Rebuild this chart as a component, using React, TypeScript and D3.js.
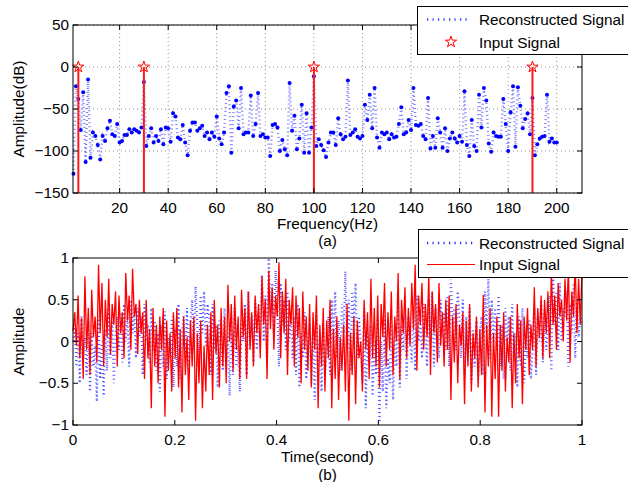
import React from 'react';
import * as d3 from 'd3';

// ---- Data ----
const freqDb = [
  -127, -23, -38, -75, -30, -113, -15, -108, -78, -82,
  -93, -110, -82, -88, -73, -64, -80, -82, -68, -90,
  -88, -81, -81, -74, -78, -74, -76, -78, -72, -18,
  -94, -82, -73, -90, -82, -88, -74, -92, -72, -73,
  -89, -55, -59, -84, -86, -69, -90, -105, -76, -66,
  -66, -76, -73, -70, -82, -78, -86, -78, -83, -59,
  -85, -92, -78, -31, -23, -102, -47, -40, -73, -25,
  -80, -78, -78, -34, -82, -68, -31, -82, -80, -84,
  -84, -106, -69, -68, -72, -100, -87, -98, -105, -19,
  -76, -58, -98, -85, -45, -102, -55, -102, -72, -11,
  -94, -86, -93, -99, -107, -90, -78, -78, -93, -61,
  -80, -86, -83, -16, -81, -78, -74, -83, -85, -82,
  -45, -63, -33, -73, -25, -84, -96, -78, -80, -78,
  -86, -80, -84, -83, -68, -48, -80, -78, -63, -75,
  -25, -69, -70, -68, -82, -86, -37, -97, -82, -96,
  -61, -78, -96, -73, -100, -85, -78, -85, -90, -82,
  -89, -29, -93, -106, -63, -94, -100, -33, -72, -25,
  -40, -91, -101, -78, -82, -83, -83, -38, -68, -100,
  -54, -23, -95, -24, -46, -73, -62, -55, -80, -37,
  -105, -92, -85, -83, -82, -33, -89, -85, -90, -90,
];
const stemFreqs = [3, 30, 100, 190];
const stemDb = [0, 0, 0, 0];

const inputSignal = [
  0.12, 0.35, -0.05, 0.55, -0.2, 0.28, -0.45, 0.78, -0.1, 0.4,
  -0.4, 0.62, 0.05, 0.3, -0.25, 0.92, 0.1, 0.7, -0.3, 0.5,
  0.05, 0.75, -0.15, 0.45, 0.2, 0.6, -0.3, 0.55, 0.1, 0.35,
  -0.2, 0.82, 0.25, 0.55, -0.1, 0.87, 0.3, 0.45, -0.15, 0.5,
  0.1, 0.35, -0.45, 0.5, -0.2, 0.15, -0.8, 0.4, -0.3, 0.2,
  -0.5, 0.3, -0.1, 0.4, -0.9, 0.25, -0.35, 0.1, -0.6, 0.35,
  -0.2, 0.4, -0.55, 0.15, -0.85, 0.3, -0.4, 0.05, -0.7, 0.25,
  -0.3, 0.3, -0.95, 0.1, -0.5, 0.25, -0.8, -0.05, -0.6, 0.2,
  -0.4, 0.35, -0.7, 0.5, -0.15, 0.2, -0.55, 0.4, -0.3, 0.3,
  -0.5, 0.68, 0.0, 0.45, -0.35, 0.55, -0.1, 0.3, -0.45, 0.62,
  0.05, 0.4, -0.45, 0.6, -0.1, 0.35, -0.3, 0.55, 0.1, 0.45,
  -0.2, 0.78, 0.2, 0.5, -0.45, 0.85, 0.15, 0.65, -0.1, 0.55,
  0.3, 0.95, -0.2, 0.6, 0.1, 0.75, -0.4, 0.5, 0.2, 0.65,
  -0.3, 0.55, 0.05, 0.4, -0.5, 0.6, -0.1, 0.3, -0.35, 0.45,
  -0.55, 0.35, -0.1, 0.55, -0.8, 0.2, -0.3, 0.4, -0.6, 0.25,
  -0.2, 0.5, -0.8, 0.15, -0.45, 0.3, -0.7, 0.05, -0.35, 0.2,
  -0.6, 0.45, -0.95, 0.1, -0.4, 0.3, -0.75, 0.25, -0.2, 0.0,
  -0.6, 0.5, -0.1, 0.35, -0.45, 0.75, -0.2, 0.4, -0.3, 0.55,
  -0.55, 0.45, 0.05, 0.7, -0.3, 0.35, -0.1, 0.6, -0.4, 0.3,
  0.0, 0.82, -0.45, 0.5, 0.1, 0.65, -0.2, 0.4, -0.05, 0.7,
  0.15, 0.92, -0.35, 0.55, 0.2, 0.7, -0.1, 0.45, 0.05, 0.8,
  -0.4, 0.6, 0.1, 0.45, -0.25, 0.7, -0.05, 0.35, -0.3, 0.5,
  -0.1, 0.55, -0.7, 0.3, -0.25, 0.45, -0.5, 0.2, -0.05, 0.35,
  -0.75, 0.25, -0.3, 0.45, -0.6, 0.1, -0.2, 0.3, -0.55, 0.15,
  -0.4, 0.56, -0.85, 0.2, -0.3, 0.4, -0.9, 0.1, -0.45, 0.3,
  -0.9, 0.2, -0.35, 0.35, -0.6, 0.05, -0.25, 0.3, -0.8, 0.1,
  -0.5, 0.45, -0.2, 0.25, -0.75, 0.3, -0.1, 0.4, -0.4, 0.2,
  -0.1, 0.65, -0.3, 0.4, 0.05, 0.55, -0.2, 0.5, 0.1, 0.6,
  -0.2, 0.85, 0.2, 0.55, -0.1, 0.7, 0.3, 0.5, 0.0, 0.75,
  0.25, 0.9, -0.25, 0.6, 0.3, 0.95, 0.1, 0.75, 0.2, 0.85,
];

const reconstructedSignal = [
  0.0, 0.2, -0.3, 0.1, -0.5, 0.3, -0.15, 0.05, -0.4, 0.25,
  -0.6, 0.1, -0.3, -0.05, -0.72, 0.3, -0.45, 0.0, -0.65, 0.15,
  -0.35, 0.4, -0.2, 0.25, -0.5, 0.1, 0.3, -0.1, 0.35, -0.25,
  0.45, 0.0, 0.3, -0.3, 0.5, 0.1, 0.35, -0.2, 0.4, 0.05,
  0.3, -0.4, 0.45, 0.0, 0.2, -0.25, 0.4, -0.1, 0.25, -0.35,
  0.1, -0.6, 0.2, -0.3, 0.36, -0.45, 0.05, -0.2, 0.3, -0.55,
  0.15, -0.3, 0.45, -0.45, 0.1, 0.3, -0.2, 0.4, -0.35, 0.2,
  0.5, -0.1, 0.66, 0.2, -0.3, 0.55, 0.1, 0.6, -0.05, 0.45,
  0.3, -0.4, 0.45, -0.1, 0.2, -0.55, 0.25, 0.0, -0.35, 0.4,
  -0.2, 0.1, -0.65, 0.3, -0.4, 0.4, -0.3, -0.05, -0.6, 0.25,
  0.0, 0.45, -0.4, 0.6, 0.1, 0.3, -0.25, 0.5, -0.1, 0.35,
  0.2, 0.8, 0.0, 0.55, -0.2, 1.0, 0.3, 0.7, 0.1, 0.85,
  0.4, -0.3, 0.7, 0.2, 0.5, -0.1, 0.6, 0.0, 0.35, -0.2,
  0.3, -0.4, 0.45, -0.55, 0.1, -0.2, 0.35, -0.45, 0.0, 0.2,
  -0.5, 0.1, -0.7, 0.35, -0.3, 0.0, -0.6, 0.2, -0.4, -0.1,
  0.3, -0.4, 0.5, 0.0, 0.6, -0.2, 0.25, -0.35, 0.45, 0.1,
  0.84, -0.1, 0.5, -0.35, 0.6, 0.2, 0.7, -0.2, 0.3, 0.0,
  -0.5, 0.4, -0.8, 0.1, -0.3, 0.2, -0.65, 0.0, -0.4, 0.3,
  -0.97, 0.0, -0.6, 0.3, -0.8, -0.2, -0.5, 0.2, -0.7, 0.1,
  -0.3, 0.45, -0.55, 0.2, -0.1, 0.35, -0.45, 0.3, 0.0, -0.25,
  0.4, -0.35, 0.55, 0.0, 0.3, -0.2, 0.45, 0.1, -0.3, 0.5,
  0.0, 0.6, -0.3, 0.4, 0.15, -0.2, 0.5, 0.05, 0.35, -0.1,
  0.55, -0.3, 0.74, 0.2, 0.4, -0.1, 0.6, 0.3, -0.2, 0.5,
  -0.4, 0.3, -0.1, 0.4, -0.5, 0.15, -0.3, 0.25, -0.45, 0.1,
  0.3, -0.4, 0.6, 0.1, 0.75, -0.2, 0.5, 0.0, 0.4, -0.1,
  0.55, -0.3, 0.2, -0.45, 0.4, 0.0, 0.3, -0.35, 0.45, -0.2,
  0.1, -0.55, 0.3, -0.3, 0.4, -0.5, 0.0, -0.2, 0.25, -0.45,
  -0.1, 0.4, -0.4, 0.3, 0.0, 0.5, -0.25, 0.35, -0.1, 0.2,
  0.55, -0.35, 0.85, 0.2, 0.6, -0.1, 0.7, 0.0, 0.4, 0.3,
  0.6, -0.3, 0.45, 0.1, 0.7, -0.2, 0.5, 0.05, 0.3, 0.2,
];

const freqTicks = [20, 40, 60, 80, 100, 120, 140, 160, 180, 200];
const dbTicks = [-150, -100, -50, 0, 50];
const timeTicks = [0, 0.2, 0.4, 0.6, 0.8, 1];
const ampTicks = [-1, -0.5, 0, 0.5, 1];
const legendLabels = ['Reconstructed Signal', 'Input Signal'];

const FONT = '"Liberation Sans", Arial, Helvetica, sans-serif';

function fmt(v: number) {
  const s = String(Math.abs(v));
  return v < 0 ? '\u2212' + s : s;
}

export default function App() {
  const W = 628, H = 482;
  const A = { l: 73, r: 582, t: 25, b: 193 };
  const B = { l: 73, r: 582, t: 258, b: 425 };

  const xF = d3.scaleLinear().domain([0.8, 210.4]).range([A.l, A.r]);
  const yF = d3.scaleLinear().domain([-150, 50]).range([A.b, A.t]);
  const xT = d3.scaleLinear().domain([0, 1]).range([B.l, B.r]);
  const yT = d3.scaleLinear().domain([-1, 1]).range([B.b, B.t]);

  const freqPts = freqDb.map((v, i) => [i + 1, v] as [number, number]);
  const freqLine = d3.line<[number, number]>().x(d => xF(d[0])).y(d => yF(d[1]))(freqPts) || '';

  const nIn = inputSignal.length;
  const inLine = d3.line<number>().x((_, i) => xT(i / (nIn - 1))).y(d => yT(d))(inputSignal) || '';
  const nRe = reconstructedSignal.length;
  const reLine = d3.line<number>().x((_, i) => xT(i / (nRe - 1))).y(d => yT(d))(reconstructedSignal) || '';

  const star = d3.symbol().type(d3.symbolStar).size(40)() || '';

  const tickLen = 5;
  const fs = 15.3;

  const axisFrame = (box: typeof A, xs: number[], xScale: any, ys: number[], yScale: any) => (
    <g>
      <rect x={box.l} y={box.t} width={box.r - box.l} height={box.b - box.t} fill="none" stroke="#000" strokeWidth={1} />
      {xs.map(v => (
        <g key={'xt' + v}>
          <line x1={xScale(v)} x2={xScale(v)} y1={box.b} y2={box.b - tickLen} stroke="#000" />
          <line x1={xScale(v)} x2={xScale(v)} y1={box.t} y2={box.t + tickLen} stroke="#000" />
        </g>
      ))}
      {ys.map(v => (
        <g key={'yt' + v}>
          <line x1={box.l} x2={box.l + tickLen} y1={yScale(v)} y2={yScale(v)} stroke="#000" />
          <line x1={box.r} x2={box.r - tickLen} y1={yScale(v)} y2={yScale(v)} stroke="#000" />
        </g>
      ))}
    </g>
  );

  return (
    <svg width={W} height={H} style={{ position: 'absolute', left: 0, top: 0, background: '#fff' }} fontFamily={FONT}>
      <rect x={0} y={0} width={W} height={H} fill="#fff" />
      {/* ---------- Top plot ---------- */}
      <g>
        {freqTicks.map(v => (
          <line key={'gx' + v} x1={xF(v)} x2={xF(v)} y1={A.t} y2={A.b} stroke="#000" strokeOpacity={0.55} strokeWidth={0.8} strokeDasharray="1 3" />
        ))}
        {dbTicks.map(v => (
          <line key={'gy' + v} x1={A.l} x2={A.r} y1={yF(v)} y2={yF(v)} stroke="#000" strokeOpacity={0.55} strokeWidth={0.8} strokeDasharray="1 3" />
        ))}
        <path d={freqLine} fill="none" stroke="#4a4aff" strokeOpacity={0.7} strokeWidth={2.4} strokeDasharray="1 3" />
        {freqPts.map((d, i) => (
          <circle key={'fp' + i} cx={xF(d[0])} cy={yF(d[1])} r={2} fill="#0000ff" />
        ))}
        {stemFreqs.map((f, i) => (
          <g key={'st' + i}>
            <line x1={xF(f)} x2={xF(f)} y1={yF(-150)} y2={yF(stemDb[i])} stroke="#ff1a1a" strokeWidth={2} />
            <path d={star} transform={`translate(${xF(f)},${yF(stemDb[i])})`} fill="none" stroke="#ff0000" strokeWidth={1} />
          </g>
        ))}
        {axisFrame(A, freqTicks, xF, dbTicks, yF)}
        {freqTicks.map(v => (
          <text key={'xl' + v} x={xF(v)} y={A.b + 20} textAnchor="middle" fontSize={fs}>{fmt(v)}</text>
        ))}
        {dbTicks.map(v => (
          <text key={'yl' + v} x={A.l - 4} y={yF(v) + 5} textAnchor="end" fontSize={fs}>{fmt(v)}</text>
        ))}
        <text x={(A.l + A.r) / 2} y={229} textAnchor="middle" fontSize={fs}>Frequency(Hz)</text>
        <text x={(A.l + A.r) / 2} y={246} textAnchor="middle" fontSize={fs}>(a)</text>
        <text transform={`translate(24,${(A.t + A.b) / 2}) rotate(-90)`} textAnchor="middle" fontSize={fs}>Amplitude(dB)</text>
        {/* legend */}
        <rect x={417.5} y={6.5} width={230} height={48} fill="#fff" stroke="#000" strokeWidth={1} />
        <line x1={427} x2={471} y1={19.5} y2={19.5} stroke="#3a3aff" strokeWidth={2.5} strokeDasharray="1.2 4.3" />
        <text x={479} y={25} fontSize={fs}>{legendLabels[0]}</text>
        <path d={star} transform="translate(451,42)" fill="none" stroke="#ff0000" strokeWidth={1} />
        <text x={479} y={47.5} fontSize={fs}>{legendLabels[1]}</text>
      </g>

      {/* ---------- Bottom plot ---------- */}
      <g>
        <path d={reLine} fill="none" stroke="#2a2aff" strokeOpacity={0.8} strokeWidth={2.2} strokeDasharray="1 3" />
        <path d={inLine} fill="none" stroke="#ff0000" strokeWidth={1.3} />
        {axisFrame(B, timeTicks, xT, ampTicks, yT)}
        {timeTicks.map(v => (
          <text key={'bxl' + v} x={xT(v)} y={B.b + 20} textAnchor="middle" fontSize={fs}>{fmt(v)}</text>
        ))}
        {ampTicks.map(v => (
          <text key={'byl' + v} x={B.l - 4} y={yT(v) + 5} textAnchor="end" fontSize={fs}>{fmt(v)}</text>
        ))}
        <text x={(B.l + B.r) / 2} y={461.5} textAnchor="middle" fontSize={fs}>Time(second)</text>
        <text x={(B.l + B.r) / 2} y={479.5} textAnchor="middle" fontSize={fs}>(b)</text>
        <text transform={`translate(24,${(B.t + B.b) / 2}) rotate(-90)`} textAnchor="middle" fontSize={fs}>Amplitude</text>
        {/* legend */}
        <rect x={418.5} y={229.5} width={230} height={48} fill="#fff" stroke="#000" strokeWidth={1} />
        <line x1={427} x2={473} y1={243} y2={243} stroke="#2a2aff" strokeWidth={2.5} strokeDasharray="1.2 4.3" />
        <text x={479} y={248.5} fontSize={fs}>{legendLabels[0]}</text>
        <line x1={427} x2={475} y1={264.5} y2={264.5} stroke="#ff0000" strokeWidth={1.2} />
        <text x={479} y={270} fontSize={fs}>{legendLabels[1]}</text>
      </g>
    </svg>
  );
}
